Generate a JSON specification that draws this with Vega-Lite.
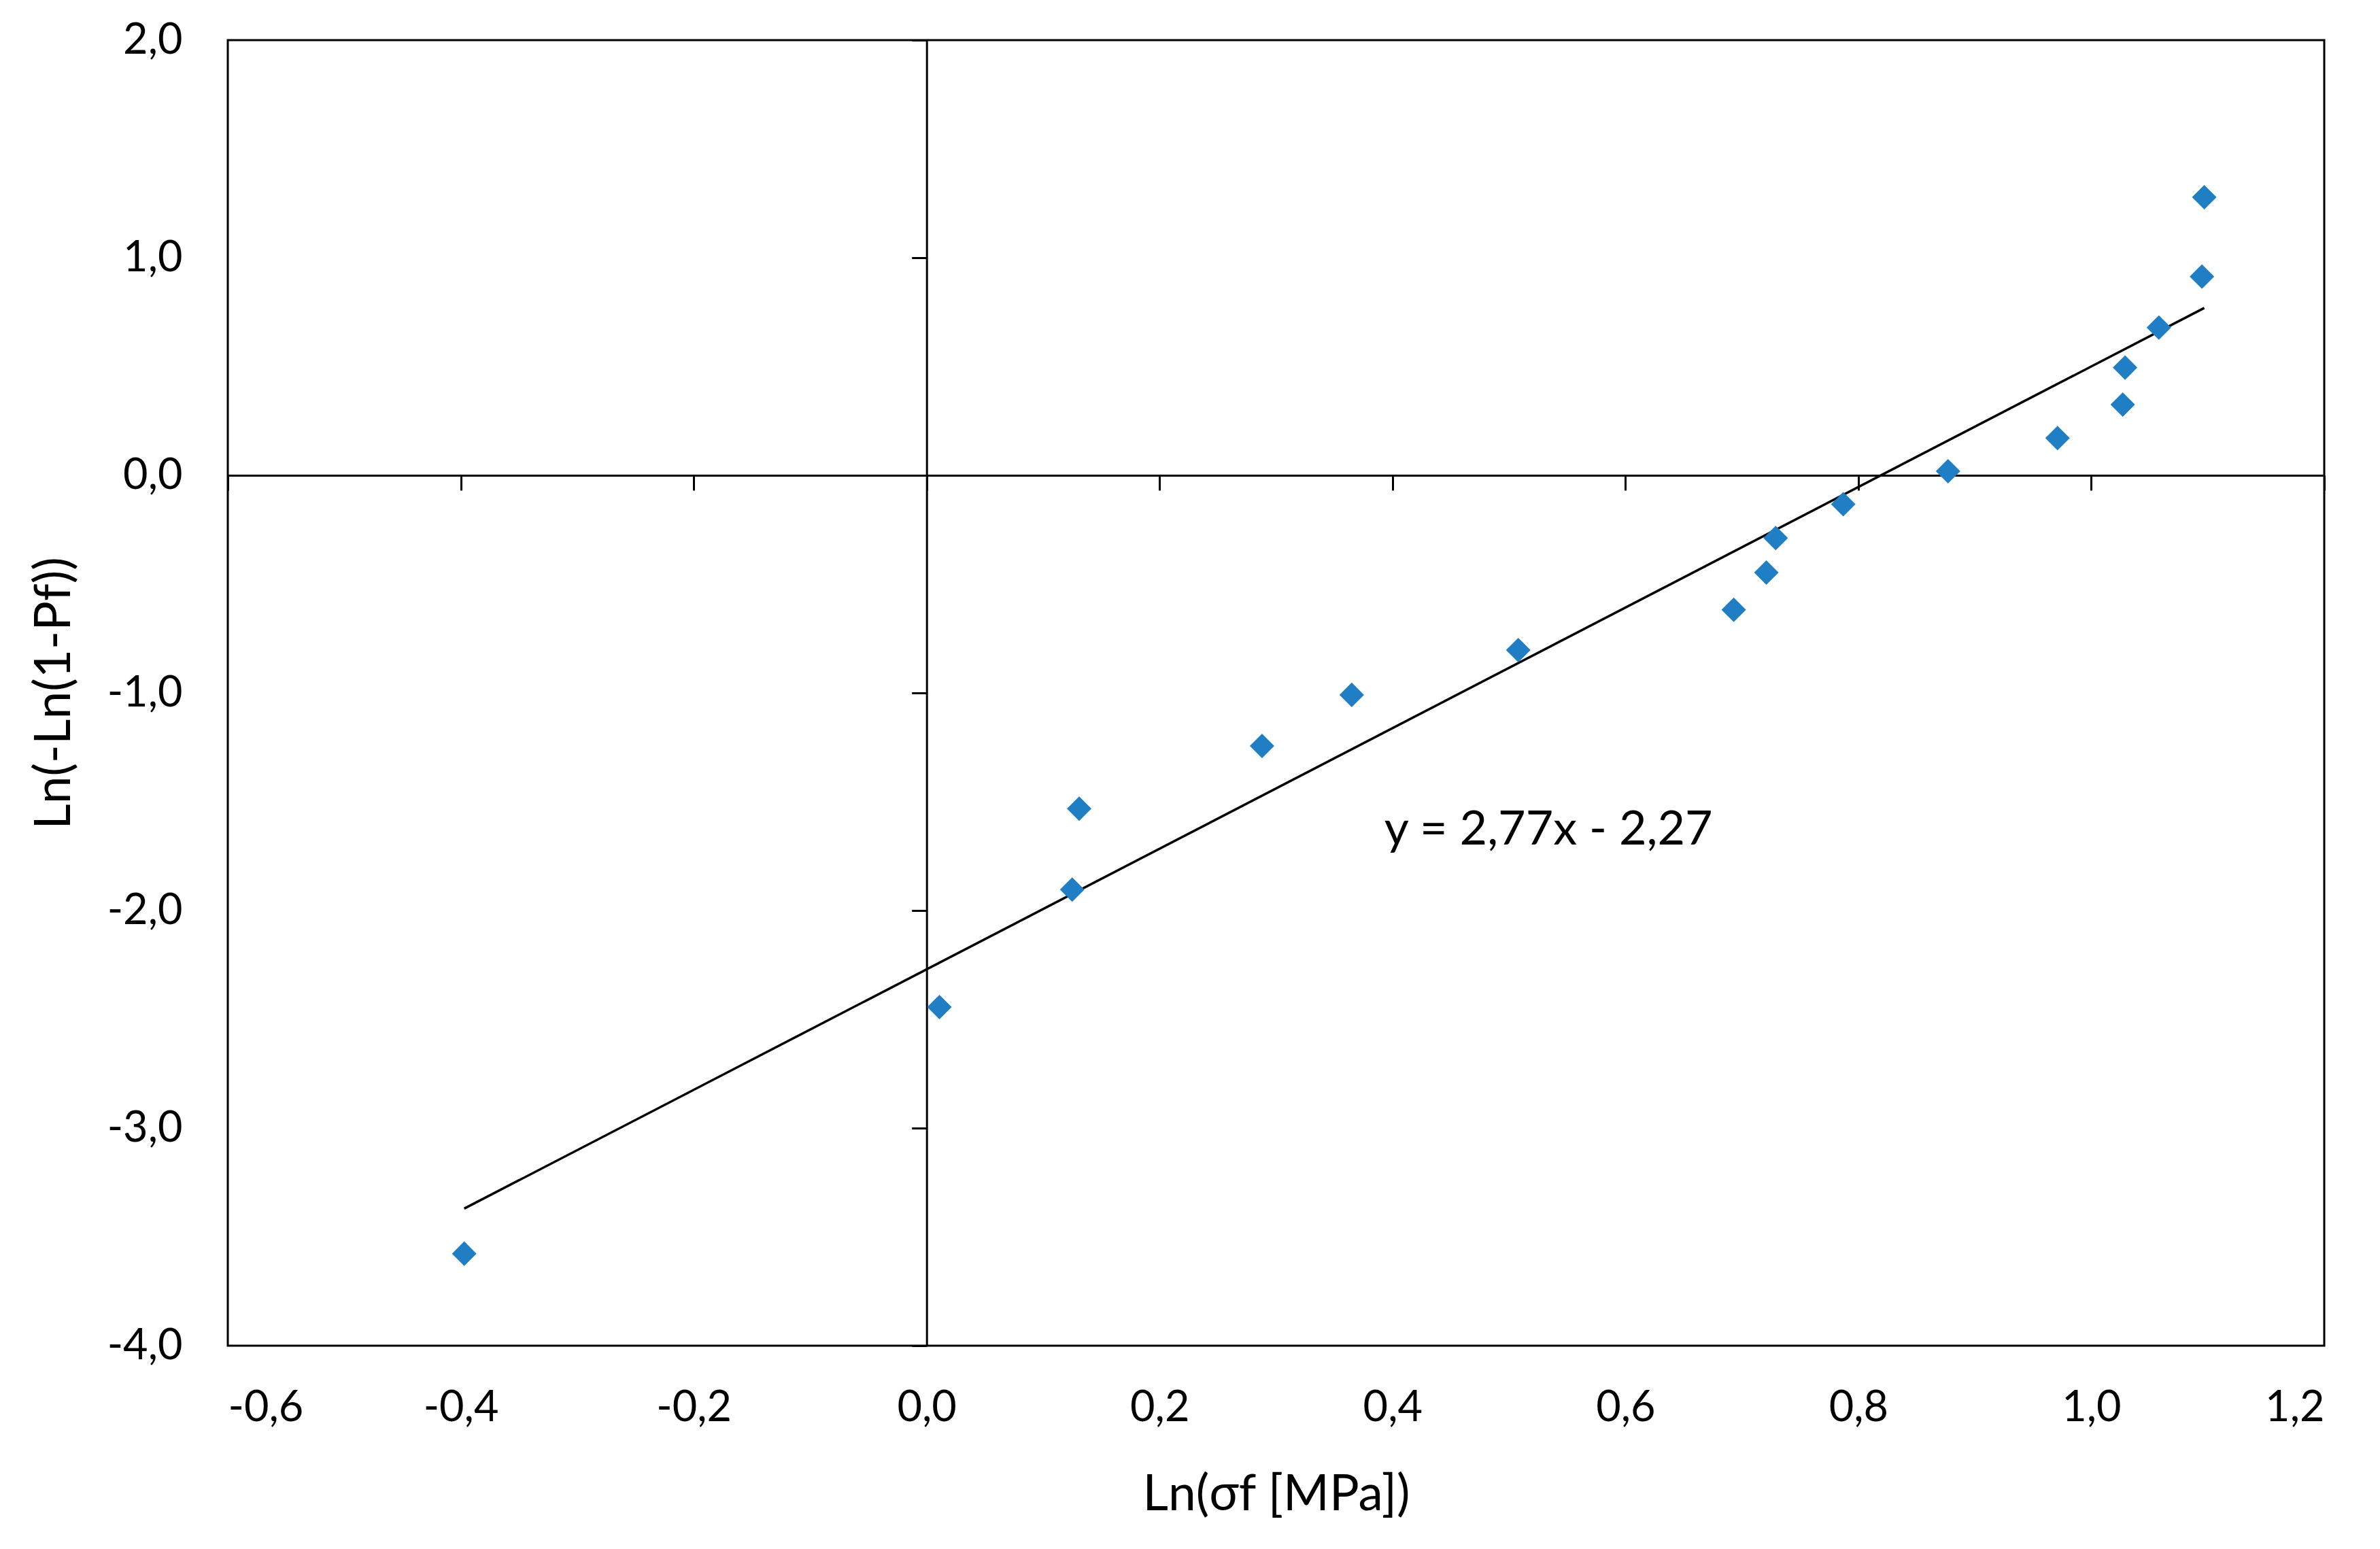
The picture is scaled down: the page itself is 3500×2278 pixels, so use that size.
{
  "$schema": "https://vega.github.io/schema/vega-lite/v6.json",
  "autosize": "none",
  "width": 3083,
  "height": 1920,
  "padding": {"left": 335, "top": 59, "right": 82, "bottom": 299},
  "background": "white",
  "config": {
    "view": {"stroke": "#000000", "strokeWidth": 3},
    "font": "Lato",
    "axis": {"grid": false, "labelFont": "Lato", "titleFont": "Lato", "labelColor": "#000000", "titleColor": "#000000", "titleFontWeight": "normal"}
  },
  "datasets": {
    "points": [
      {"x": -0.397, "y": -3.577},
      {"x": 0.011, "y": -2.444},
      {"x": 0.125, "y": -1.904},
      {"x": 0.131, "y": -1.532},
      {"x": 0.288, "y": -1.244},
      {"x": 0.365, "y": -1.009},
      {"x": 0.508, "y": -0.803},
      {"x": 0.693, "y": -0.618},
      {"x": 0.721, "y": -0.447},
      {"x": 0.729, "y": -0.288},
      {"x": 0.787, "y": -0.133},
      {"x": 0.877, "y": 0.019},
      {"x": 0.971, "y": 0.171},
      {"x": 1.027, "y": 0.325},
      {"x": 1.029, "y": 0.495},
      {"x": 1.058, "y": 0.679},
      {"x": 1.095, "y": 0.913},
      {"x": 1.097, "y": 1.278}
    ],
    "trend": [
      {"x": -0.397, "y": -3.370},
      {"x": 1.097, "y": 0.769}
    ],
    "eq": [
      {"x": 0.393, "y": -1.631, "label": "y = 2,77x - 2,27"}
    ]
  },
  "resolve": {"axis": {"x": "independent", "y": "independent"}},
  "layer": [
    {
      "data": {"name": "trend"},
      "mark": {"type": "line", "color": "#000000", "strokeWidth": 3.5},
      "encoding": {
        "x": {"field": "x", "type": "quantitative", "scale": {"domain": [-0.6, 1.2], "nice": false, "zero": false},
          "axis": {"orient": "bottom", "offset": -1280, "values": [-0.6, -0.4, -0.2, 0, 0.2, 0.4, 0.6, 0.8, 1.0, 1.2], "domain": true, "domainColor": "#000000", "domainWidth": 3, "ticks": true, "tickColor": "#000000", "tickWidth": 3, "tickSize": 22, "labels": false, "title": null}},
        "y": {"field": "y", "type": "quantitative", "scale": {"domain": [-4, 2], "nice": false, "zero": false},
          "axis": {"orient": "left", "offset": -1027.7, "values": [-4, -3, -2, -1, 0, 1, 2], "domain": true, "domainColor": "#000000", "domainWidth": 3, "ticks": true, "tickColor": "#000000", "tickWidth": 3, "tickSize": 22, "labels": false, "title": null}}
      }
    },
    {
      "data": {"name": "points"},
      "mark": {"type": "point", "shape": "diamond", "filled": true, "size": 1300, "color": "#1f7ec4", "opacity": 1, "strokeWidth": 0},
      "encoding": {
        "x": {"field": "x", "type": "quantitative", "scale": {"domain": [-0.6, 1.2], "nice": false, "zero": false},
          "axis": {"orient": "bottom", "values": [-0.6, -0.4, -0.2, 0, 0.2, 0.4, 0.6, 0.8, 1.0, 1.2], "domain": false, "ticks": false, "labelPadding": 60, "labelFontSize": 63, "labelExpr": "replace(replace(format(datum.value, '.1f'), '.', ','), '\u2212', '-')", "title": "Ln(σf [MPa])", "titleFontSize": 73, "titlePadding": 60}},
        "y": {"field": "y", "type": "quantitative", "scale": {"domain": [-4, 2], "nice": false, "zero": false},
          "axis": {"orient": "left", "values": [-4, -3, -2, -1, 0, 1, 2], "domain": false, "ticks": false, "labelPadding": 67, "labelFontSize": 63, "labelExpr": "replace(replace(format(datum.value, '.1f'), '.', ','), '\u2212', '-')", "title": "Ln(-Ln(1-Pf))", "titleFontSize": 73, "titlePadding": 40}}
      }
    },
    {
      "data": {"name": "eq"},
      "mark": {"type": "text", "align": "left", "baseline": "middle", "fontSize": 70, "font": "Lato", "color": "#000000"},
      "encoding": {
        "x": {"field": "x", "type": "quantitative", "scale": {"domain": [-0.6, 1.2], "nice": false, "zero": false}, "axis": null},
        "y": {"field": "y", "type": "quantitative", "scale": {"domain": [-4, 2], "nice": false, "zero": false}, "axis": null},
        "text": {"field": "label"}
      }
    }
  ]
}
